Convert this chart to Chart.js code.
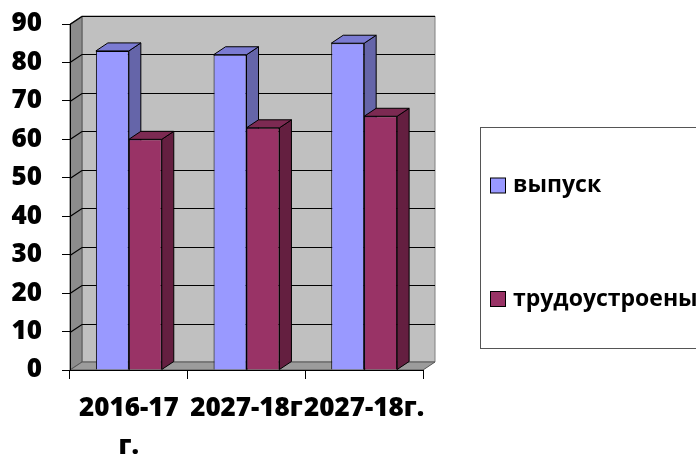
<!DOCTYPE html>
<html>
<head>
<meta charset="utf-8">
<script src="https://cdn.jsdelivr.net/npm/chart.js@4.4.1/dist/chart.umd.min.js"></script>
<style>
html,body{margin:0;padding:0;background:#fff;}
#wrap{width:696px;height:456px;}
</style>
</head>
<body>
<div id="wrap"><canvas id="c" width="696" height="456"></canvas></div>
<script>
const categories = [["2016-17", "г."], "2027-18г", "2027-18г."];
const seriesVypusk = [83, 82, 85];
const seriesTrud = [60, 63, 66];
const seriesNames = ["выпуск", "трудоустроены"];
const yMin = 0, yMax = 90, yStep = 10;

const DX = 12, DY = 8;
const FONT = "'Open Sans', 'DejaVu Sans', sans-serif";
const faces = [
  {front: '#9999FF', side: '#6565A9', top: '#7B7BD2'},
  {front: '#993366', side: '#641F40', top: '#7C2A52'}
];

function poly(ctx, pts, fill, stroke) {
  ctx.beginPath();
  ctx.moveTo(pts[0][0], pts[0][1]);
  for (let i = 1; i < pts.length; i++) ctx.lineTo(pts[i][0], pts[i][1]);
  ctx.closePath();
  if (fill) { ctx.fillStyle = fill; ctx.fill(); }
  if (stroke) { ctx.strokeStyle = stroke; ctx.lineWidth = 1; ctx.stroke(); }
}

const backdrop = {
  id: 'backdrop',
  beforeDraw(chart) {
    const ctx = chart.ctx, a = chart.chartArea, ys = chart.scales.y;
    ctx.save();
    poly(ctx, [[a.left+DX, a.top-DY], [a.right+DX, a.top-DY], [a.right+DX, a.bottom-DY], [a.left+DX, a.bottom-DY]], '#C0C0C0', '#808080');
    poly(ctx, [[a.left, a.top], [a.left+DX, a.top-DY], [a.left+DX, a.bottom-DY], [a.left, a.bottom]], '#8C8C8C', '#555');
    poly(ctx, [[a.left, a.bottom], [a.left+DX, a.bottom-DY], [a.right+DX, a.bottom-DY], [a.right, a.bottom]], '#9C9C9C', '#555');
    ctx.strokeStyle = '#000'; ctx.lineWidth = 1.2;
    for (let v = yMin + yStep; v <= yMax; v += yStep) {
      const y = Math.round(ys.getPixelForValue(v)) + 0.5;
      ctx.beginPath();
      ctx.moveTo(a.left, y);
      ctx.lineTo(a.left+DX, y-DY);
      ctx.lineTo(a.right+DX, y-DY);
      ctx.stroke();
    }
    ctx.restore();
  },
  beforeDatasetsDraw(chart) {
    const ctx = chart.ctx;
    ctx.save();
    const n = chart.data.labels.length;
    for (let i = 0; i < n; i++) {
      chart.data.datasets.forEach((ds, di) => {
        const el = chart.getDatasetMeta(di).data[i];
        const p = el.getProps(['x','y','base','width'], true);
        const l = p.x - p.width/2, r = p.x + p.width/2, t = p.y, b = p.base;
        poly(ctx, [[r, t], [r+DX, t-DY], [r+DX, b-DY], [r, b]], faces[di].side, '#000');
        poly(ctx, [[l, t], [l+DX, t-DY], [r+DX, t-DY], [r, t]], faces[di].top, '#000');
      });
    }
    ctx.restore();
  },
  afterDraw(chart) {
    const ctx = chart.ctx;
    ctx.save();
    ctx.strokeStyle = '#555'; ctx.lineWidth = 1;
    ctx.strokeRect(480.5, 127.5, 240, 221);
    const ys = [185.5, 299];
    ctx.font = "bold 23px " + FONT;
    ctx.textBaseline = 'middle';
    chart.data.datasets.forEach((ds, di) => {
      const y = ys[di];
      ctx.fillStyle = ds.backgroundColor;
      ctx.fillRect(490.5, y-7.5, 15, 15);
      ctx.strokeStyle = '#000';
      ctx.strokeRect(490.5, y-7.5, 15, 15);
      ctx.fillStyle = '#000';
      ctx.fillText(ds.label, 513, y);
    });
    ctx.restore();
  }
};

new Chart(document.getElementById('c'), {
  type: 'bar',
  data: {
    labels: categories,
    datasets: [
      {label: seriesNames[0], data: seriesVypusk, backgroundColor: faces[0].front, borderColor: '#000', borderWidth: 1},
      {label: seriesNames[1], data: seriesTrud, backgroundColor: faces[1].front, borderColor: '#000', borderWidth: 1}
    ]
  },
  options: {
    responsive: false,
    animation: false,
    layout: {padding: {top: 24, right: 273, left: 0, bottom: 0}},
    datasets: {bar: {categoryPercentage: 0.56, barPercentage: 1}},
    plugins: {legend: {display: false}, tooltip: {enabled: false}},
    scales: {
      x: {
        afterFit(s) { s.height = 86; s.paddingLeft = 0; s.paddingRight = 0; },
        grid: {drawOnChartArea: false, tickLength: 9, tickColor: '#000', offset: true},
        border: {color: '#000', width: 1},
        ticks: {autoSkip: false, maxRotation: 0, minRotation: 0, padding: 11, color: '#000',
                font: {family: FONT, size: 26, weight: '800', lineHeight: 1.45}}
      },
      y: {
        min: yMin, max: yMax,
        afterFit(s) { s.width = 70; s.paddingTop = 0; s.paddingBottom = 0; },
        grid: {drawOnChartArea: false, tickLength: 8, tickColor: '#000'},
        border: {color: '#000', width: 1},
        ticks: {stepSize: yStep, padding: 20, color: '#000',
                font: {family: FONT, size: 26, weight: '800'}}
      }
    }
  },
  plugins: [backdrop]
});
</script>
</body>
</html>
